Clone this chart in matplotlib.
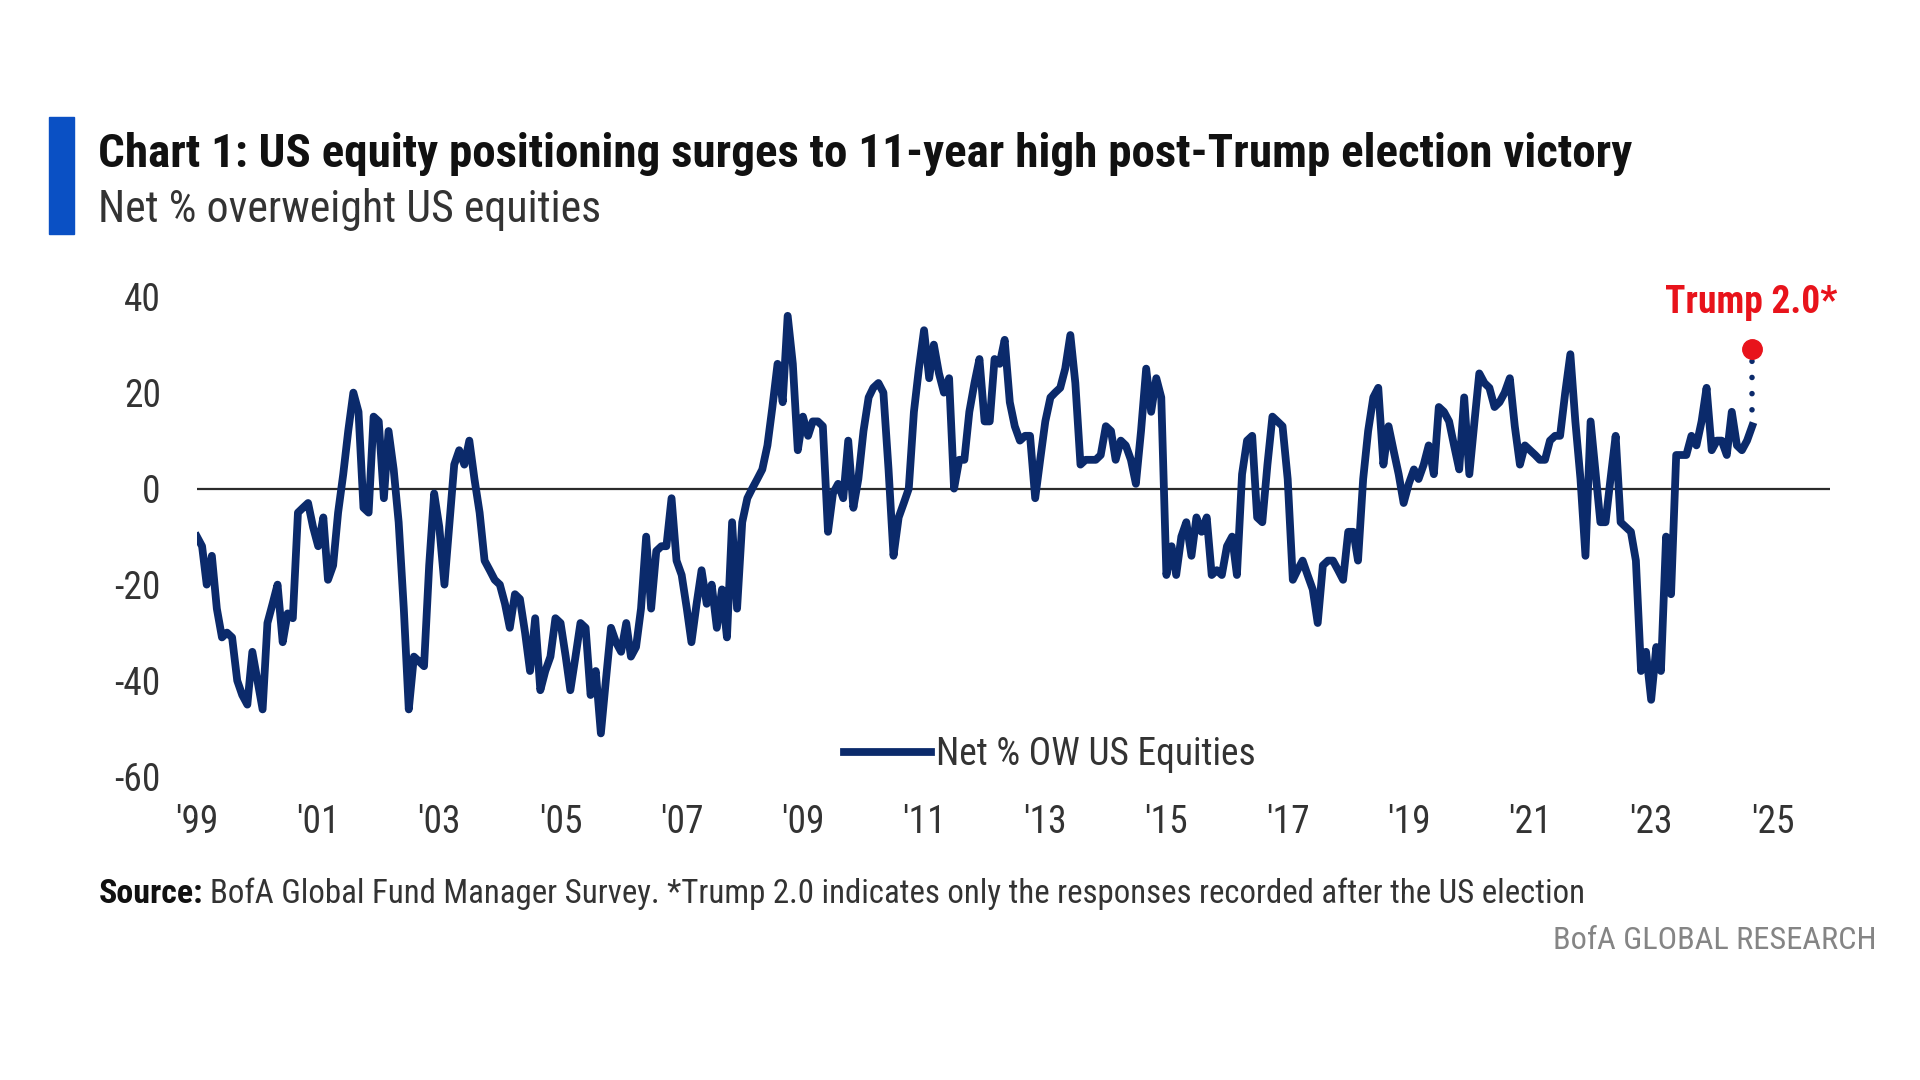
import matplotlib
matplotlib.use("Agg")
import matplotlib.pyplot as plt
import pandas as pd
from matplotlib import font_manager
from matplotlib.patches import Rectangle

# net % overweight US equities, monthly from Jan 1999
net_ow = [
    -10, -12, -20, -14, -25, -31, -30, -31, -40, -43, -45, -34,   # 1999
    -40, -46, -28, -24, -20, -32, -26, -27, -5, -4, -3, -8,       # 2000
    -12, -6, -19, -16, -5, 3, 12, 20, 16, -4, -5, 15,             # 2001
    14, -2, 12, 4, -7, -25, -46, -35, -36, -37, -16, -1,          # 2002
    -8, -20, -8, 5, 8, 5, 10, 2, -5, -15, -17, -19,               # 2003
    -20, -24, -29, -22, -23, -30, -38, -27, -42, -38, -35, -27,   # 2004
    -28, -35, -42, -35, -28, -29, -43, -38, -51, -40, -29, -32,   # 2005
    -34, -28, -35, -33, -25, -10, -25, -13, -12, -12, -2, -15,    # 2006
    -18, -25, -32, -24, -17, -24, -20, -29, -21, -31, -7, -25,    # 2007
    -7, -2, 0, 2, 4, 9, 17, 26, 18, 36, 26, 8,                    # 2008
    15, 11, 14, 14, 13, -9, -1, 1, -2, 10, -4, 2,                 # 2009
    12, 19, 21, 22, 20, 4, -14, -6, -3, 0, 16, 25,                # 2010
    33, 23, 30, 24, 20, 23, 0, 6, 6, 16, 22, 27,                  # 2011
    14, 14, 27, 26, 31, 18, 13, 10, 11, 11, -2, 6,                # 2012
    14, 19, 20, 21, 25, 32, 22, 5, 6, 6, 6, 7,                    # 2013
    13, 12, 6, 10, 9, 6, 1, 12, 25, 16, 23, 19,                   # 2014
    -18, -12, -18, -10, -7, -14, -6, -9, -6, -18, -17, -18,       # 2015
    -12, -10, -18, 3, 10, 11, -6, -7, 5, 15, 14, 13,              # 2016
    2, -19, -17, -15, -18, -21, -28, -16, -15, -15, -17, -19,     # 2017
    -9, -9, -15, 2, 12, 19, 21, 5, 13, 8, 3, -3,                  # 2018
    1, 4, 2, 5, 9, 3, 17, 16, 14, 9, 4, 19,                       # 2019
    3, 14, 24, 22, 21, 17, 18, 20, 23, 13, 5, 9,                  # 2020
    8, 7, 6, 6, 10, 11, 11, 20, 28, 14, 2, -14,                   # 2021
    14, 3, -7, -7, 2, 11, -7, -8, -9, -15, -38, -34,              # 2022
    -44, -33, -38, -10, -22, 7, 7, 7, 11, 9, 14, 21,              # 2023
    8, 10, 10, 7, 16, 9, 8, 10, 13,                               # 2024
]
trump_val = 29  # post-election responses only
dates = pd.date_range("1999-01-01", periods=len(net_ow), freq="MS")

tick_years = list(range(1999, 2026, 2))
tick_labels = ["'" + str(y)[2:] for y in tick_years]
y_ticks = [-60, -40, -20, 0, 20, 40]

NAVY = "#0b2a6b"
RED = "#e8131b"
BAR_BLUE = "#0a50c4"

available = {f.name for f in font_manager.fontManager.ttflist}
main_font = next((f for f in ["Liberation Sans Narrow", "Roboto Condensed", "Open Sans Condensed"]
                  if f in available), "Open Sans")
plt.rcParams["font.family"] = [main_font, "DejaVu Sans"]
plt.rcParams["axes.unicode_minus"] = False

# layout measured on a 1560 x 877.5 copy of the reference
def fx(x):
    return x / 1560.0

def fy(y):
    return 1 - y / 877.5

fig = plt.figure(figsize=(19.2, 10.8), dpi=100)
ax = fig.add_axes([fx(160), fy(631), fx(1487) - fx(160), fy(241) - fy(631)])

ax.axhline(0, color="#2b2b2b", lw=1.6, zorder=1)
ax.plot(dates, net_ow, color=NAVY, lw=5.6, solid_joinstyle="round",
        label="Net % OW US Equities", zorder=3)
ax.plot([dates[-1], dates[-1]], [net_ow[-1], trump_val], color=NAVY, lw=4.0,
        ls=(0, (0.01, 2.9)), dash_capstyle="round", zorder=3)
ax.plot([dates[-1]], [trump_val], "o", color=RED, ms=14, zorder=5, clip_on=False)
ax.annotate("Trump 2.0*", (dates[-1], trump_val), xytext=(-1, 34),
            textcoords="offset points", ha="center", va="center",
            color=RED, fontsize=27, fontweight="bold", annotation_clip=False)

ax.set_xlim(pd.Timestamp("1999-01-01"), pd.Timestamp("2025-12-15"))
ax.set_ylim(-60, 40)
ax.set_xticks([pd.Timestamp(f"{y}-01-01") for y in tick_years])
ax.set_xticklabels(tick_labels)
ax.set_yticks(y_ticks)
ax.tick_params(axis="both", length=0, labelsize=27, colors="#333333")
ax.tick_params(axis="y", pad=26)
ax.tick_params(axis="x", pad=20)
for s in ax.spines.values():
    s.set_visible(False)

ax.legend(loc="center left", bbox_to_anchor=(fx(686), fy(613)), bbox_transform=fig.transFigure,
          frameon=False, fontsize=27, handlelength=2.3, handletextpad=0.15,
          borderpad=0, borderaxespad=0, labelcolor="#333333")

fig.patches.append(Rectangle((fx(40), fy(190)), fx(60) - fx(40), fy(95) - fy(190),
                             transform=fig.transFigure, color=BAR_BLUE))

title = fig.text(fx(80), fy(125), "Chart 1: US equity positioning surges to 11-year high post-Trump election victory",
                 fontsize=36, fontweight="bold", color="#111111", va="center")
subtitle = fig.text(fx(80), fy(170), "Net % overweight US equities", fontsize=30,
                    color="#333333", va="center")
src_b = fig.text(fx(80), fy(726), "Source:", fontsize=24, fontweight="bold", color="#111111", va="center")
src = fig.text(fx(171), fy(726),
               "BofA Global Fund Manager Survey. *Trump 2.0 indicates only the responses recorded after the US election",
               fontsize=24, color="#333333", va="center")
brand = fig.text(fx(1525), fy(764), "BofA GLOBAL RESEARCH", fontsize=24, color="#858585",
                 ha="right", va="center")

# scale the text so each line spans the same width as in the reference
fig.canvas.draw()
r = fig.canvas.get_renderer()
for t, x0, x1 in [(title, 80, 1328), (subtitle, 80, 488), (src_b, 80, 165),
                  (src, 171, 1290), (brand, 1262, 1525)]:
    w = t.get_window_extent(r).width
    t.set_fontsize(t.get_fontsize() * (x1 - x0) * 1920 / 1560 / w)

fig.savefig("out.png", dpi=100, facecolor="white")
